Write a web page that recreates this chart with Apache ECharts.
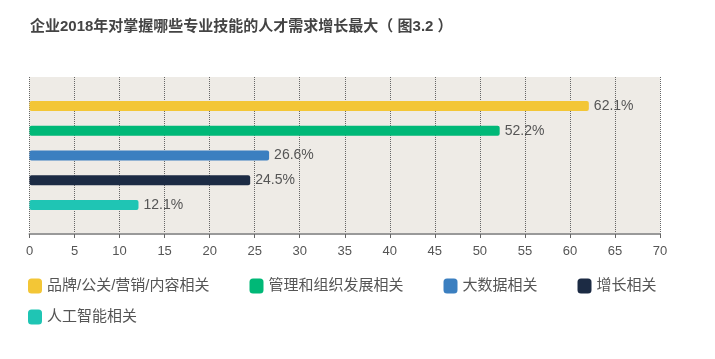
<!DOCTYPE html>
<html>
<head>
<meta charset="utf-8">
<script src="https://cdn.jsdelivr.net/npm/echarts@6/dist/echarts.min.js"></script>
<style>
html,body{margin:0;padding:0;background:#fff;}
#main{width:715px;height:359px;}
</style>
</head>
<body>
<div id="main"></div>
<script>
const titleText = '企业2018年对掌握哪些专业技能的人才需求增长最大（ 图3.2 ）';
const seriesNames = ['品牌/公关/营销/内容相关', '管理和组织发展相关', '大数据相关', '增长相关', '人工智能相关'];
const seriesValues = [62.1, 52.2, 26.6, 24.5, 12.1];
const seriesColors = ['#f3c636', '#00b877', '#3b7fc0', '#1c2b44', '#1fc5b4'];
const categories = [''];
const xTicks = { min: 0, max: 70, interval: 5 };

const font = '"Liberation Sans", "Noto Sans CJK SC", sans-serif';
const chart = echarts.init(document.getElementById('main'), null, { renderer: 'canvas' });

const series = seriesNames.map((name, i) => ({
  name: name,
  type: 'bar',
  data: [seriesValues[i]],
  barWidth: 10,
  barGap: '148%',
  itemStyle: { color: seriesColors[i], borderRadius: 2 },
  label: {
    show: true,
    position: 'right',
    distance: 5,
    formatter: '{c}%',
    color: '#555',
    fontSize: 14,
    fontFamily: font
  }
}));

chart.setOption({
  animation: false,
  backgroundColor: '#ffffff',
  title: {
    text: titleText,
    left: 30,
    top: 19,
    padding: 0,
    textStyle: { fontSize: 15, fontWeight: 'bold', color: '#444', fontFamily: font }
  },
  legend: [
    {
      data: seriesNames.slice(0, 4),
      left: 28, top: 278.5,
      padding: 0,
      itemWidth: 14, itemHeight: 15, itemGap: 40,
      icon: 'roundRect',
      textStyle: { fontSize: 15, color: '#555', fontFamily: font }
    },
    {
      data: seriesNames.slice(4),
      left: 28, top: 309.5,
      padding: 0,
      itemWidth: 14, itemHeight: 15,
      icon: 'roundRect',
      textStyle: { fontSize: 15, color: '#555', fontFamily: font }
    }
  ],
  grid: {
    left: 29.5, right: 55, top: 77, bottom: 125,
    show: true, backgroundColor: '#eeebe6', borderWidth: 0,
    containLabel: false
  },
  xAxis: {
    type: 'value',
    min: xTicks.min, max: xTicks.max, interval: xTicks.interval,
    axisLine: { show: true, lineStyle: { color: '#999', width: 2 } },
    axisTick: { show: true, length: 4, lineStyle: { color: '#666' } },
    axisLabel: { color: '#555', fontSize: 13, margin: 11, fontFamily: font },
    splitLine: { show: true, lineStyle: { color: '#666', type: 'dotted', width: 1 } }
  },
  yAxis: {
    type: 'category',
    data: categories,
    inverse: true,
    axisLine: { show: false },
    axisTick: { show: false },
    axisLabel: { show: false }
  },
  series: series
});
</script>
</body>
</html>
